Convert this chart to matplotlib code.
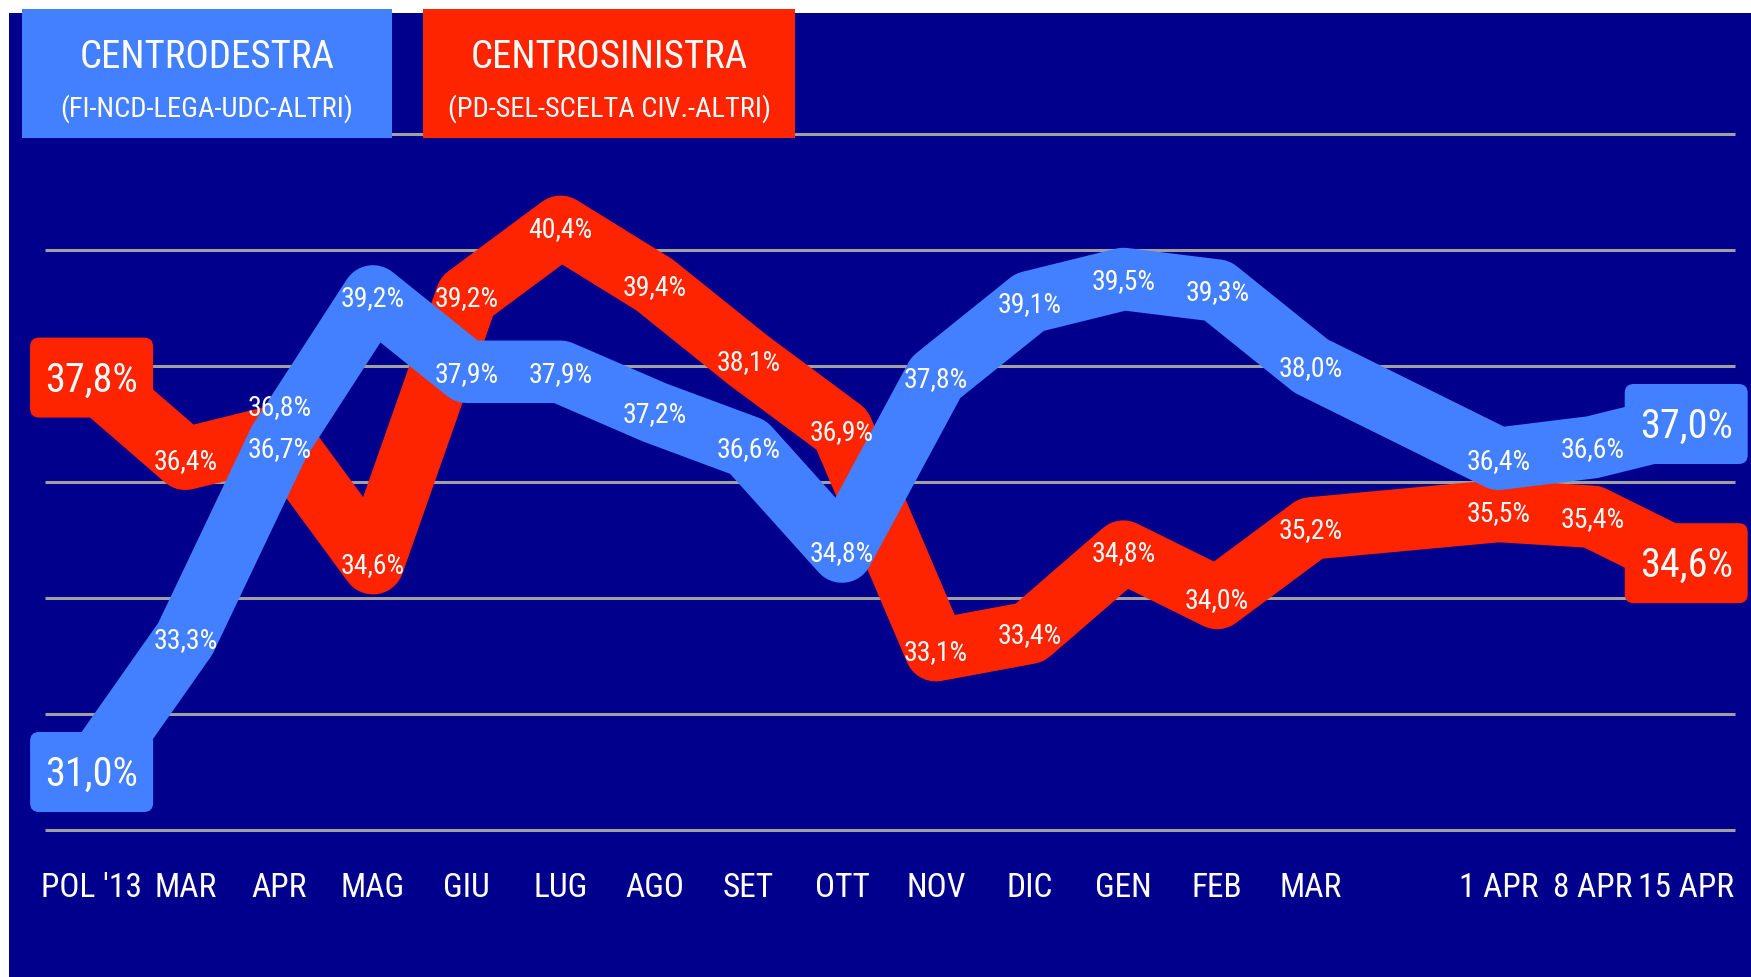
import matplotlib
matplotlib.use("Agg")
import matplotlib.pyplot as plt
import matplotlib.font_manager as fm
from matplotlib.patches import FancyBboxPatch, Rectangle

# sondaggi: centrodestra vs centrosinistra
months = ["POL '13", "MAR", "APR", "MAG", "GIU", "LUG", "AGO", "SET", "OTT",
          "NOV", "DIC", "GEN", "FEB", "MAR", "1 APR", "8 APR", "15 APR"]
centrodestra = [31.0, 33.3, 36.7, 39.2, 37.9, 37.9, 37.2, 36.6, 34.8,
                37.8, 39.1, 39.5, 39.3, 38.0, 36.4, 36.6, 37.0]
centrosinistra = [37.8, 36.4, 36.8, 34.6, 39.2, 40.4, 39.4, 38.1, 36.9,
                  33.1, 33.4, 34.8, 34.0, 35.2, 35.5, 35.4, 34.6]
# gap between monthly and weekly polls
xpos = list(range(14)) + [15, 16, 17]

NAVY = "#00008c"
BLUE = "#4380ff"
RED = "#ff2400"
GRID = "#a0a0a0"


def pick_font():
    fonts = fm.fontManager.ttflist
    names = {f.name for f in fonts}
    for n in ["Roboto Condensed", "Liberation Sans Narrow", "Open Sans Condensed",
              "Noto Sans Condensed", "DejaVu Sans Condensed"]:
        if n in names:
            return n, "normal"
    for n in ["Roboto", "Noto Sans", "Open Sans", "DejaVu Sans"]:
        if any(f.name == n and "condensed" in str(f.stretch) for f in fonts):
            return n, "condensed"
    return "DejaVu Sans", "normal"


FONT, STRETCH = pick_font()
TXT = dict(fontfamily=FONT, fontstretch=STRETCH, color="white")

# pixel layout of the picture
W, H = 1751, 977
X0, DX = 91.6, 93.8      # px of first category, px per category
Y30, DY = 830, 58.0      # px of the 30% line, px per point

fig = plt.figure(figsize=(W / 100, H / 100), dpi=100, facecolor="white")
ax = fig.add_axes([9 / W, 0, (W - 9) / W, (H - 13) / H])
ax.set_facecolor(NAVY)
ax.set_xlim((9 - X0) / DX, (W - X0) / DX)
ax.set_ylim(30 - (H - Y30) / DY, 30 + (Y30 - 13) / DY)
for s in ax.spines.values():
    s.set_visible(False)
ax.set_yticks([])

for v in range(30, 43, 2):
    ax.hlines(v, (45 - X0) / DX, (1735 - X0) / DX, color=GRID, lw=2.2, zorder=1)

ax.plot(xpos, centrosinistra, color=RED, lw=45, solid_joinstyle="round",
        solid_capstyle="butt", zorder=2)
ax.plot(xpos, centrodestra, color=BLUE, lw=45, solid_joinstyle="round",
        solid_capstyle="butt", zorder=3)


def fmt(v):
    return f"{v:.1f}".replace(".", ",") + "%"


nudge = {"red": {2: 0.52}, "blue": {2: -0.1}}
shift = -0.04   # labels sit a touch below the point
bw, bh = 123 / DX, 80 / DY
rx = 9 / DX
for key, vals, col in [("red", centrosinistra, RED), ("blue", centrodestra, BLUE)]:
    for k, (x, v) in enumerate(zip(xpos, vals)):
        if k in (0, len(vals) - 1):
            box = FancyBboxPatch((x - bw / 2, v - bh / 2), bw, bh,
                                 boxstyle=f"round,pad=0,rounding_size={rx}",
                                 mutation_aspect=DX / DY, fc=col, ec="none",
                                 zorder=5, clip_on=False)
            ax.add_patch(box)
            ax.text(x, v + shift, fmt(v), ha="center", va="center", fontsize=29,
                    zorder=6, **TXT)
        else:
            ax.text(x, v + shift + nudge[key].get(k, 0), fmt(v), ha="center",
                    va="center", fontsize=20, zorder=6, **TXT)

ax.spines["bottom"].set_position(("data", 30 + (Y30 - 872) / DY))
ax.set_xticks(xpos, months)
ax.tick_params(axis="x", length=0, pad=0, labelsize=24, labelcolor="white")
for lbl in ax.get_xticklabels():
    lbl.set_fontfamily(FONT)
    lbl.set_fontstretch(STRETCH)

# legend boxes on top
for x1, x2, col, title, sub in [(22, 392, BLUE, "CENTRODESTRA", "(FI-NCD-LEGA-UDC-ALTRI)"),
                                (423, 795, RED, "CENTROSINISTRA", "(PD-SEL-SCELTA CIV.-ALTRI)")]:
    fig.add_artist(Rectangle((x1 / W, 1 - 138 / H), (x2 - x1) / W, 129 / H,
                             transform=fig.transFigure, fc=col, ec="none", zorder=10))
    fig.text((x1 + x2) / 2 / W, 1 - 57 / H, title, ha="center", va="center",
             fontsize=28, zorder=11, **TXT)
    fig.text((x1 + x2) / 2 / W, 1 - 109 / H, sub, ha="center", va="center",
             fontsize=20.5, zorder=11, **TXT)

fig.savefig("out.png", dpi=100, facecolor="white")
